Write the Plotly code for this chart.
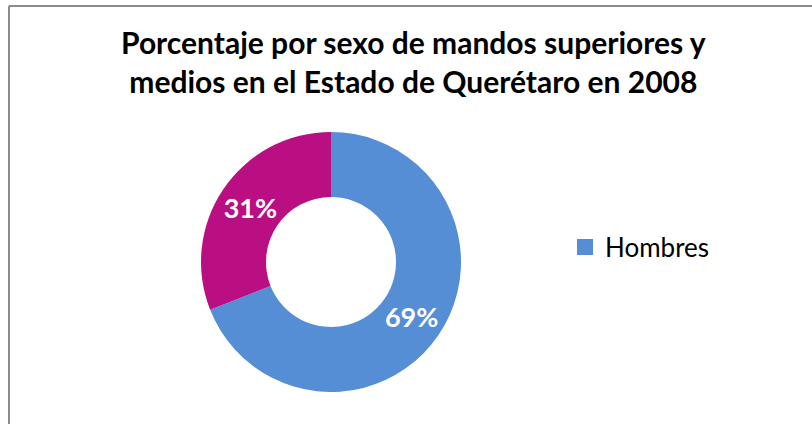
import plotly.graph_objects as go

# data
sexo = ["Hombres", "Mujeres"]
porcentaje = [69, 31]
colores = ["#558ED5", "#BA0F83"]
titulo = "Porcentaje por sexo de mandos superiores y<br>medios en el Estado de Querétaro en 2008"

W, H = 812, 424
FONT = "Lato"

# pie centre / radius in pixels (reference is a slightly squashed ellipse)
CX, CY, R = 331, 262, 130

fig = go.Figure()
fig.add_trace(
    go.Pie(
        labels=sexo,
        values=porcentaje,
        hole=0.5,
        sort=False,
        direction="clockwise",
        rotation=0,
        marker=dict(colors=colores, line=dict(width=0)),
        texttemplate="%{value}%",
        textposition="inside",
        insidetextorientation="horizontal",
        textfont=dict(family=FONT, size=27, color="white", weight="bold"),
        domain=dict(
            x=[(CX - R) / W, (CX + R) / W],
            y=[(H - CY - R) / H, (H - CY + R) / H],
        ),
        showlegend=False,
        hoverinfo="label+percent",
    )
)

# legend proxy: the reference legend only lists the first category
fig.add_trace(
    go.Scatter(
        x=[None], y=[None], mode="markers", name=sexo[0],
        marker=dict(symbol="square", size=16, color=colores[0]),
        showlegend=True,
    )
)

# chart-area frame: only the top and left edges are inside the picture
frame = dict(type="line", xref="paper", yref="paper",
             line=dict(color="#8c8c8c", width=2))
top_y = 1 - 6 / H
left_x = 9 / W

fig.update_layout(
    width=W, height=H,
    margin=dict(l=0, r=0, t=0, b=0),
    paper_bgcolor="white",
    plot_bgcolor="white",
    xaxis=dict(visible=False),
    yaxis=dict(visible=False),
    title=dict(
        text=titulo,
        x=0.509, xanchor="center",
        y=1 - 54 / H, yanchor="middle",
        font=dict(family=FONT, size=30, color="black", weight="bold"),
    ),
    legend=dict(
        x=565 / W, xanchor="left",
        y=1 - 247 / H, yanchor="middle",
        font=dict(family=FONT, size=26, color="black"),
        bgcolor="rgba(0,0,0,0)",
    ),
    shapes=[
        dict(frame, x0=left_x, x1=1, y0=top_y, y1=top_y),
        dict(frame, x0=left_x, x1=left_x, y0=0, y1=top_y),
    ],
)

fig.write_html(
    "out.html",
    config={"displayModeBar": False},
    post_script="document.body.style.margin='0';",
)
